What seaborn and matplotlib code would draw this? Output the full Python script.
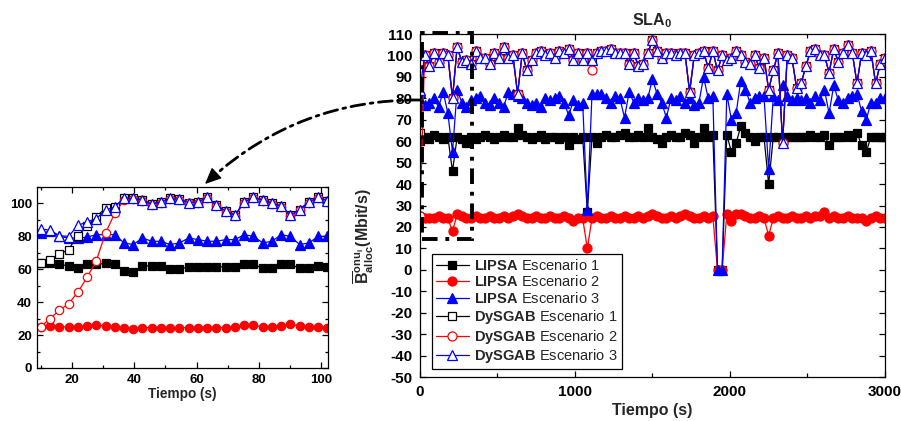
import numpy as np
import matplotlib
matplotlib.use("Agg")
import matplotlib.pyplot as plt
import seaborn as sns
from matplotlib.patches import Rectangle, FancyArrowPatch
from matplotlib.ticker import MultipleLocator

# ---------------- data ----------------
# main plot: one sample every 30 s
t_main = np.arange(0, 3001, 30)

lipsa1_main = [60, 62, 61, 63, 62, 61, 62, 46, 62, 61,
               59, 62, 61, 62, 63, 62, 61, 62, 63, 62,
               62, 66, 63, 62, 61, 62, 63, 61, 62, 62,
               61, 62, 58, 62, 61, 62, 27, 62, 59, 62,
               63, 62, 62, 63, 64, 62, 62, 63, 62, 66,
               62, 61, 59, 62, 63, 62, 62, 64, 63, 59,
               62, 66, 62, 63, 0, 0, 63, 55, 59, 67,
               64, 62, 60, 62, 62, 40, 62, 62, 61, 62,
               62, 62, 62, 62, 63, 62, 62, 63, 58, 62,
               62, 62, 63, 62, 64, 58, 55, 62, 62, 62, 62]

lipsa2_main = [25, 24, 24, 24, 25, 24, 24, 18, 26, 25,
               24, 24, 25, 24, 24, 25, 24, 24, 25, 24,
               25, 26, 25, 24, 24, 25, 24, 24, 25, 24,
               24, 25, 24, 23, 24, 24, 10, 24, 25, 24,
               24, 25, 24, 24, 25, 24, 24, 25, 24, 25,
               26, 25, 24, 24, 25, 24, 25, 26, 25, 24,
               24, 25, 24, 25, 0, 0, 26, 23, 26, 26,
               25, 24, 24, 25, 24, 16, 24, 25, 24, 24,
               25, 24, 24, 25, 24, 25, 25, 27, 24, 25,
               24, 24, 25, 24, 24, 24, 23, 24, 25, 24, 24]

lipsa3_main = [83, 77, 78, 80, 76, 83, 73, 55, 84, 78,
               76, 79, 80, 81, 78, 77, 80, 78, 76, 83,
               82, 81, 80, 78, 77, 78, 76, 80, 79, 80,
               81, 78, 72, 79, 77, 78, 28, 82, 82, 82,
               80, 78, 81, 80, 71, 83, 78, 80, 79, 80,
               89, 82, 78, 71, 80, 79, 81, 78, 80, 77,
               78, 90, 80, 81, 0, 0, 82, 70, 73, 88,
               84, 78, 80, 81, 81, 47, 81, 79, 86, 81,
               79, 80, 79, 80, 78, 81, 79, 84, 73, 86,
               79, 78, 80, 81, 82, 74, 70, 78, 78, 80, 80]

dysgab1_main = [64, 100, 95, 101, 97, 101, 100, 80, 104, 97,
                98, 96, 102, 99, 99, 96, 101, 99, 104, 99,
                100, 82, 101, 93, 98, 101, 102, 100, 101, 99,
                102, 101, 103, 98, 101, 98, 101, 98, 101, 102,
                102, 103, 101, 101, 101, 96, 101, 95, 96, 101,
                107, 102, 99, 101, 101, 100, 101, 101, 83, 100,
                101, 102, 94, 102, 93, 100, 98, 99, 102, 100,
                97, 96, 100, 94, 99, 84, 93, 101, 59, 100,
                99, 85, 87, 95, 102, 103, 100, 100, 92, 103,
                97, 101, 105, 101, 87, 101, 100, 102, 87, 96, 99]

dysgab2_main = [25, 100, 95, 101, 97, 101, 100, 80, 104, 97,
                98, 96, 102, 99, 99, 96, 101, 99, 104, 99,
                100, 82, 101, 93, 98, 101, 102, 100, 101, 99,
                102, 101, 103, 98, 101, 98, 101, 93, 101, 102,
                102, 103, 101, 101, 101, 96, 101, 95, 96, 101,
                107, 102, 99, 101, 101, 100, 101, 101, 83, 100,
                101, 102, 94, 102, 93, 100, 98, 99, 102, 100,
                97, 96, 100, 94, 99, 84, 93, 101, 59, 100,
                99, 85, 87, 95, 102, 103, 100, 100, 92, 103,
                97, 101, 105, 101, 87, 101, 100, 102, 87, 96, 99]

dysgab3_main = [84, 100, 95, 101, 97, 101, 100, 80, 104, 97,
                98, 96, 102, 99, 99, 96, 101, 99, 104, 99,
                100, 82, 101, 93, 98, 101, 102, 100, 101, 99,
                102, 101, 103, 98, 101, 98, 101, 98, 101, 102,
                102, 103, 101, 101, 101, 96, 101, 95, 96, 101,
                107, 102, 99, 101, 101, 100, 101, 101, 83, 100,
                101, 102, 94, 102, 93, 100, 98, 99, 102, 100,
                97, 96, 100, 94, 99, 84, 93, 101, 59, 100,
                99, 85, 87, 95, 102, 103, 100, 100, 92, 103,
                97, 101, 105, 101, 87, 101, 100, 102, 87, 96, 99]

# zoomed inset: first ~100 s, one sample every ~3 s
t_zoom = np.linspace(10, 102, 32)

lipsa1_zoom = [64, 64, 63, 62, 61, 63, 63, 63.5, 63, 59, 58.5, 62, 62, 62, 60, 60,
               61.5, 61.5, 61.5, 61.5, 61.5, 61.5, 63, 63, 60.5, 60.5, 63, 63, 60.5, 60.5, 62, 61.5]
lipsa2_zoom = [25, 25.5, 25, 25, 25, 25.5, 26, 25.5, 25, 24, 23.5, 24.5, 24.5, 24.5, 24.5, 24.5,
               24.5, 24.5, 24.5, 24.5, 24.5, 25, 26, 26, 25, 25, 25.5, 26.5, 25.5, 25, 25, 24.5]
lipsa3_zoom = [82, 83, 80, 79, 79, 79.5, 81, 81, 81, 76, 75, 79, 77, 77, 75, 76,
               79, 78, 77, 77, 78, 78, 81, 80, 76, 77, 81, 80, 75, 76, 80, 80]
dysgab1_zoom = [64, 65.5, 69, 72, 80.5, 86, 92, 97, 98, 103, 103, 102, 99.6, 101, 103, 102.5,
                100.4, 101, 103.7, 99, 95.3, 92.8, 101, 103.7, 102, 100, 98.4, 92.8, 96.3, 101, 103.7, 101.6]
dysgab2_zoom = [25, 30, 35, 39, 46, 55, 65, 82, 94, 102, 102.5, 101.5, 99, 100.5, 102.5, 102,
                100, 100.5, 103, 98.5, 95, 92.3, 100.5, 103, 101.5, 99.5, 98, 92.3, 96, 100.5, 103, 101]
dysgab3_zoom = [84.6, 83.6, 80.5, 79.9, 86.7, 88.7, 90.8, 95.9, 97.9, 103, 103, 102, 99.6, 101, 103, 102.5,
                100.4, 101, 103.7, 99, 95.3, 92.8, 101, 103.7, 102, 100, 98.4, 92.8, 96.3, 101, 103.7, 101.6]

labels = [r'$\mathbf{LIPSA}$ Escenario 1', r'$\mathbf{LIPSA}$ Escenario 2', r'$\mathbf{LIPSA}$ Escenario 3',
          r'$\mathbf{DySGAB}$ Escenario 1', r'$\mathbf{DySGAB}$ Escenario 2', r'$\mathbf{DySGAB}$ Escenario 3']

# ---------------- style ----------------
sns.set_theme(style="ticks")
plt.rcParams['font.family'] = ['Liberation Sans', 'DejaVu Sans']
plt.rcParams['font.weight'] = 'bold'
plt.rcParams['axes.labelweight'] = 'bold'
plt.rcParams['mathtext.fontset'] = 'custom'
plt.rcParams['mathtext.rm'] = 'Liberation Sans'
plt.rcParams['mathtext.bf'] = 'Liberation Sans:bold'
plt.rcParams['mathtext.it'] = 'Liberation Sans:italic'
plt.rcParams['axes.unicode_minus'] = False
plt.rcParams['axes.edgecolor'] = 'black'
plt.rcParams['axes.linewidth'] = 0.9

# (color, marker, face, size main, size inset)
styles = [('black', 's', 'black', 5.4, 5.4),
          ('red', 'o', 'red', 6.5, 6.0),
          ('blue', '^', 'blue', 6.8, 6.5),
          ('black', 's', 'white', 5.4, 5.4),
          ('red', 'o', 'white', 6.5, 6.0),
          ('blue', '^', 'white', 6.8, 6.5)]

fig = plt.figure(figsize=(9.01, 4.21), dpi=100)
ax = fig.add_axes([0.4661, 0.1045, 0.516, 0.8147])
axi = fig.add_axes([0.0411, 0.1259, 0.323, 0.43])

main_series = [lipsa1_main, lipsa2_main, lipsa3_main, dysgab1_main, dysgab2_main, dysgab3_main]
zoom_series = [lipsa1_zoom, lipsa2_zoom, lipsa3_zoom, dysgab1_zoom, dysgab2_zoom, dysgab3_zoom]

for vals, lab, (col, mk, face, ms, msi) in zip(main_series, labels, styles):
    sns.lineplot(x=t_main, y=vals, ax=ax, color=col, marker=mk, markersize=ms,
                 markerfacecolor=face, markeredgecolor=col, markeredgewidth=0.9,
                 linewidth=0.9, label=lab, errorbar=None)

for vals, (col, mk, face, ms, msi) in zip(zoom_series, styles):
    sns.lineplot(x=t_zoom, y=vals, ax=axi, color=col, marker=mk, markersize=msi,
                 markerfacecolor=face, markeredgecolor=col, markeredgewidth=0.9,
                 linewidth=0.9, legend=False, errorbar=None)

# main axes
ax.set_xlim(0, 3000)
ax.set_ylim(-50, 110)
ax.set_yticks(np.arange(-50, 111, 10))
ax.xaxis.set_major_locator(MultipleLocator(1000))
ax.xaxis.set_minor_locator(MultipleLocator(500))
ax.tick_params(which='both', direction='in', top=True, right=True, width=0.9, colors='black')
ax.tick_params(which='major', length=4.5, labelsize=11, pad=5.5)
ax.tick_params(which='minor', length=3)
ax.set_xlabel('Tiempo (s)', fontsize=11.5, labelpad=3)
ax.set_ylabel(r'$\overline{\mathbf{B}}^{\mathbf{onu_i}}_{\mathbf{alloc}}$(Mbit/s)', fontsize=11.5)
ax.yaxis.set_label_coords(-0.095, 0.41)
ax.set_title(r'$\mathbf{SLA}_{\mathbf{0}}$', fontsize=11.5, pad=6)

leg = ax.legend(loc='lower left', bbox_to_anchor=(0.026, 0.023), borderaxespad=0,
                frameon=True, fancybox=False, edgecolor='black', framealpha=1,
                prop={'weight': 'normal', 'size': 10.5}, labelspacing=0.12,
                handlelength=2.3, handletextpad=0.35, borderpad=0.25)
leg.get_frame().set_linewidth(0.9)

# zoom region box on the main plot
ax.add_patch(Rectangle((11, 14.6), 322, 95.7, fill=False, edgecolor='black', lw=2.8,
                       linestyle=(0, (4, 2, 1, 2)), clip_on=False, zorder=6))

# inset axes
axi.set_xlim(8.8, 102.2)
axi.set_ylim(0, 110)
axi.xaxis.set_major_locator(MultipleLocator(20))
axi.xaxis.set_minor_locator(MultipleLocator(10))
axi.yaxis.set_major_locator(MultipleLocator(20))
axi.yaxis.set_minor_locator(MultipleLocator(10))
axi.tick_params(which='both', direction='in', top=True, right=True, width=0.9, colors='black')
axi.tick_params(which='major', length=4, labelsize=9.5)
axi.tick_params(axis='x', which='major', pad=4.5)
axi.tick_params(axis='y', which='major', pad=3.8)
axi.tick_params(which='minor', length=2.5)
axi.set_xlabel('Tiempo (s)', fontsize=9.8, labelpad=0.5)
axi.set_ylabel('')

# curved dash-dot arrow from the main plot to the inset (pixel positions)
W, H = 901.0, 421.0
ax_px, ay_px = 420.0, 321.0   # start, y measured from bottom
bx_px, by_px = 205.0, 237.0   # tip
rad = 0.2
cx = (ax_px + bx_px) / 2 + rad * (by_px - ay_px)
cy = (ay_px + by_px) / 2 - rad * (bx_px - ax_px)
ux, uy = bx_px - cx, by_px - cy
norm = np.hypot(ux, uy)
ux, uy = ux / norm, uy / norm
curve = FancyArrowPatch((ax_px / W, ay_px / H), (bx_px / W, by_px / H), transform=fig.transFigure,
                        connectionstyle=f'arc3,rad={rad}', arrowstyle='-', color='black', lw=2,
                        linestyle=(0, (5, 2, 1, 2)), shrinkA=0, shrinkB=6)
fig.patches.append(curve)
head = FancyArrowPatch(((bx_px - 14 * ux) / W, (by_px - 14 * uy) / H), (bx_px / W, by_px / H),
                       transform=fig.transFigure, arrowstyle='-|>,head_length=1.0,head_width=0.45',
                       mutation_scale=10, color='black', lw=1, shrinkA=0, shrinkB=0)
fig.patches.append(head)

fig.savefig('out.png', dpi=100)
